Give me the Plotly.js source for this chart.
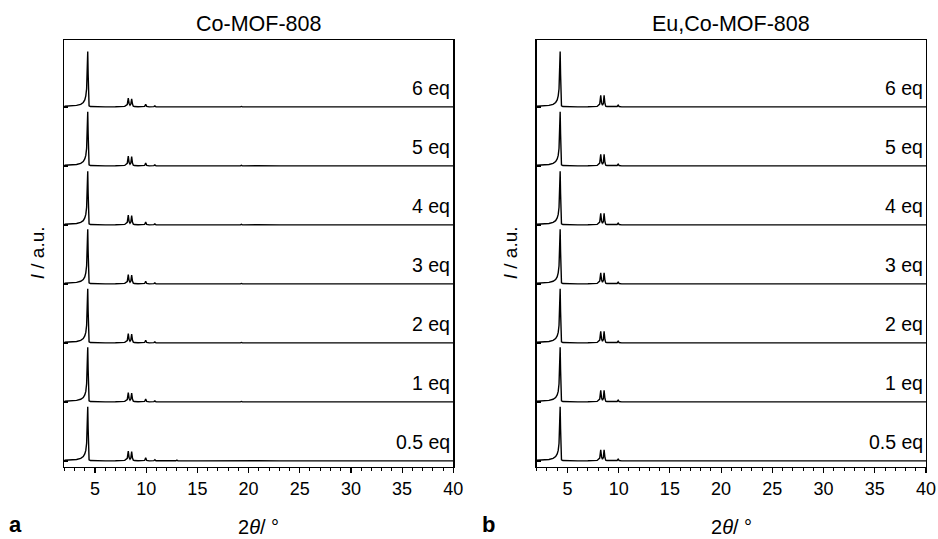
<!DOCTYPE html>
<html>
<head>
<meta charset="utf-8">
<script src="https://cdn.plot.ly/plotly-3.0.1.min.js"></script>
<style>html,body{margin:0;padding:0;background:#fff;}#chart{width:938px;height:539px;}</style>
</head>
<body>
<div id="chart"></div>
<script>
const twoTheta = [2.0,2.6,3.2,3.6,3.85,4.0,4.1,4.18,4.24,4.29,4.33,4.37,4.42,4.55,5.0,6.0,7.0,7.9,8.15,8.25,8.33,8.42,8.5,8.58,8.66,8.74,8.85,9.2,9.85,9.95,10.05,10.3,10.75,10.85,10.95,12.0,12.9,13.0,13.1,15.0,17.0,19.2,19.3,19.4,20.5,20.65,20.8,23.0,26.0,28.5,29.0,29.5,33.0,36.0,40.0];

const eqLabels = ['0.5 eq','1 eq','2 eq','3 eq','4 eq','5 eq','6 eq'];
const stackOffsets = [0,1,2,3,4,5,6];

// Panel a: Co-MOF-808 (normalised intensity, one array per loading)
const co_05 = [0.012,0.016,0.026,0.045,0.075,0.12,0.18,0.30,0.55,0.92,0.55,0.10,0.02,0.008,0.004,0.003,0.004,0.010,0.045,0.17,0.06,0.03,0.05,0.16,0.05,0.015,0.008,0.004,0.010,0.055,0.010,0.003,0.006,0.022,0.005,0.003,0.004,0.015,0.004,0.002,0.003,0.003,0.012,0.003,0.004,0.014,0.004,0.002,0.003,0.003,0.008,0.003,0.002,0.003,0.002];
const co_1  = [0.012,0.016,0.027,0.046,0.076,0.12,0.18,0.31,0.56,0.93,0.55,0.10,0.02,0.008,0.004,0.003,0.004,0.010,0.042,0.16,0.06,0.03,0.05,0.15,0.05,0.015,0.008,0.004,0.010,0.050,0.010,0.003,0.006,0.020,0.005,0.003,0.004,0.013,0.004,0.002,0.003,0.003,0.010,0.003,0.004,0.012,0.004,0.002,0.003,0.003,0.007,0.003,0.002,0.003,0.002];
const co_2  = [0.012,0.016,0.026,0.045,0.075,0.12,0.18,0.30,0.55,0.92,0.54,0.10,0.02,0.008,0.004,0.003,0.004,0.010,0.042,0.16,0.06,0.03,0.05,0.15,0.05,0.015,0.008,0.004,0.010,0.048,0.010,0.003,0.006,0.018,0.005,0.003,0.004,0.012,0.004,0.002,0.003,0.003,0.010,0.003,0.004,0.012,0.004,0.002,0.003,0.003,0.007,0.003,0.002,0.003,0.002];
const co_3  = [0.012,0.016,0.027,0.046,0.076,0.12,0.19,0.31,0.56,0.93,0.55,0.10,0.02,0.008,0.004,0.003,0.004,0.010,0.042,0.16,0.06,0.03,0.05,0.15,0.05,0.015,0.008,0.004,0.010,0.048,0.010,0.003,0.006,0.018,0.005,0.003,0.004,0.012,0.004,0.002,0.003,0.003,0.010,0.003,0.004,0.012,0.004,0.002,0.003,0.003,0.007,0.003,0.002,0.003,0.002];
const co_4  = [0.012,0.016,0.026,0.045,0.074,0.12,0.18,0.30,0.54,0.91,0.54,0.10,0.02,0.008,0.004,0.003,0.004,0.010,0.045,0.17,0.06,0.03,0.05,0.16,0.05,0.015,0.008,0.004,0.010,0.050,0.010,0.003,0.006,0.020,0.005,0.003,0.004,0.013,0.004,0.002,0.003,0.003,0.011,0.003,0.004,0.013,0.004,0.002,0.003,0.003,0.007,0.003,0.002,0.003,0.002];
const co_5  = [0.012,0.016,0.026,0.045,0.075,0.12,0.18,0.30,0.55,0.92,0.55,0.10,0.02,0.008,0.004,0.003,0.004,0.010,0.045,0.17,0.06,0.03,0.05,0.16,0.05,0.015,0.008,0.004,0.010,0.050,0.010,0.003,0.006,0.020,0.005,0.003,0.004,0.013,0.004,0.002,0.003,0.003,0.011,0.003,0.004,0.013,0.004,0.002,0.003,0.003,0.007,0.003,0.002,0.003,0.002];
const co_6  = [0.012,0.016,0.027,0.046,0.077,0.12,0.19,0.31,0.56,0.94,0.56,0.10,0.02,0.008,0.004,0.003,0.004,0.010,0.042,0.15,0.06,0.03,0.05,0.14,0.05,0.015,0.008,0.004,0.010,0.045,0.010,0.003,0.006,0.018,0.005,0.003,0.004,0.012,0.004,0.002,0.003,0.003,0.010,0.003,0.004,0.012,0.004,0.002,0.003,0.003,0.007,0.003,0.002,0.003,0.002];

// Panel b: Eu,Co-MOF-808
const eu_05 = [0.012,0.016,0.026,0.045,0.075,0.12,0.18,0.30,0.55,0.92,0.55,0.10,0.02,0.008,0.004,0.003,0.004,0.010,0.050,0.19,0.07,0.03,0.06,0.19,0.06,0.015,0.008,0.004,0.008,0.030,0.008,0.003,0.005,0.010,0.004,0.003,0.003,0.006,0.003,0.002,0.003,0.003,0.006,0.003,0.004,0.008,0.004,0.002,0.003,0.003,0.005,0.003,0.002,0.003,0.002];
const eu_1  = [0.012,0.016,0.027,0.046,0.076,0.12,0.18,0.31,0.56,0.93,0.55,0.10,0.02,0.008,0.004,0.003,0.004,0.010,0.050,0.20,0.07,0.03,0.06,0.20,0.06,0.015,0.008,0.004,0.008,0.030,0.008,0.003,0.005,0.010,0.004,0.003,0.003,0.006,0.003,0.002,0.003,0.003,0.006,0.003,0.004,0.008,0.004,0.002,0.003,0.003,0.005,0.003,0.002,0.003,0.002];
const eu_2  = [0.012,0.016,0.026,0.045,0.075,0.12,0.18,0.30,0.55,0.92,0.54,0.10,0.02,0.008,0.004,0.003,0.004,0.010,0.050,0.20,0.07,0.03,0.06,0.20,0.06,0.015,0.008,0.004,0.008,0.030,0.008,0.003,0.005,0.010,0.004,0.003,0.003,0.006,0.003,0.002,0.003,0.003,0.006,0.003,0.004,0.008,0.004,0.002,0.003,0.003,0.005,0.003,0.002,0.003,0.002];
const eu_3  = [0.012,0.016,0.027,0.046,0.076,0.12,0.19,0.31,0.56,0.93,0.55,0.10,0.02,0.008,0.004,0.003,0.004,0.010,0.050,0.19,0.07,0.03,0.06,0.19,0.06,0.015,0.008,0.004,0.008,0.030,0.008,0.003,0.005,0.010,0.004,0.003,0.003,0.006,0.003,0.002,0.003,0.003,0.006,0.003,0.004,0.008,0.004,0.002,0.003,0.003,0.005,0.003,0.002,0.003,0.002];
const eu_4  = [0.012,0.016,0.026,0.045,0.074,0.12,0.18,0.30,0.54,0.91,0.54,0.10,0.02,0.008,0.004,0.003,0.004,0.010,0.050,0.20,0.07,0.03,0.06,0.20,0.06,0.015,0.008,0.004,0.008,0.030,0.008,0.003,0.005,0.010,0.004,0.003,0.003,0.006,0.003,0.002,0.003,0.003,0.006,0.003,0.004,0.008,0.004,0.002,0.003,0.003,0.005,0.003,0.002,0.003,0.002];
const eu_5  = [0.012,0.016,0.026,0.045,0.075,0.12,0.18,0.30,0.55,0.92,0.55,0.10,0.02,0.008,0.004,0.003,0.004,0.010,0.050,0.20,0.07,0.03,0.06,0.20,0.06,0.015,0.008,0.004,0.008,0.030,0.008,0.003,0.005,0.010,0.004,0.003,0.003,0.006,0.003,0.002,0.003,0.003,0.006,0.003,0.004,0.008,0.004,0.002,0.003,0.003,0.005,0.003,0.002,0.003,0.002];
const eu_6  = [0.012,0.016,0.027,0.046,0.077,0.12,0.19,0.31,0.56,0.94,0.56,0.10,0.02,0.008,0.004,0.003,0.004,0.010,0.050,0.20,0.07,0.03,0.06,0.20,0.06,0.015,0.008,0.004,0.008,0.030,0.008,0.003,0.005,0.010,0.004,0.003,0.003,0.006,0.003,0.002,0.003,0.003,0.006,0.003,0.004,0.008,0.004,0.002,0.003,0.003,0.005,0.003,0.002,0.003,0.002];

const coSeries = [co_05, co_1, co_2, co_3, co_4, co_5, co_6];
const euSeries = [eu_05, eu_1, eu_2, eu_3, eu_4, eu_5, eu_6];
const panelTitles = ['Co-MOF-808', 'Eu,Co-MOF-808'];
const panelLetters = ['a', 'b'];

const FONT = 'Arial, "Liberation Sans", sans-serif';
const W = 938, H = 539;
const px = v => v / W, py = v => 1 - v / H;

const traces = [];
[coSeries, euSeries].forEach((series, p) => {
  series.forEach((vals, i) => {
    traces.push({
      type: 'scatter', mode: 'lines',
      x: twoTheta, y: vals.map(v => v + stackOffsets[i]),
      xaxis: p === 0 ? 'x' : 'x2', yaxis: p === 0 ? 'y' : 'y2',
      line: {color: '#000', width: 1.4}, hoverinfo: 'skip', showlegend: false
    });
  });
});

const xDom = [[px(64.3), px(453.3)], [px(536.7), px(926)]];
const yDom = [py(466.5), py(40)];

function xaxis(d, anchor) {
  return {
    domain: d, anchor: anchor, range: [2, 40], tick0: 0, dtick: 5,
    showline: true, mirror: true, linecolor: '#000', linewidth: 1.4,
    ticks: 'outside', ticklen: 5, tickwidth: 1.2, tickcolor: '#000',
    minor: {dtick: 1, tick0: 0, ticks: 'outside', ticklen: 3, tickwidth: 1, tickcolor: '#000', showgrid: false},
    showgrid: false, zeroline: false,
    tickfont: {family: FONT, size: 18, color: '#000'}, fixedrange: true
  };
}
function yaxis(anchor) {
  return {
    domain: yDom, anchor: anchor, range: [-0.093, 7.136],
    tickmode: 'array', tickvals: stackOffsets, ticktext: stackOffsets.map(() => ''),
    showline: true, mirror: true, linecolor: '#000', linewidth: 1.4,
    ticks: 'inside', ticklen: 4, tickwidth: 1.2, tickcolor: '#000',
    showgrid: false, zeroline: false, showticklabels: false, fixedrange: true
  };
}

const annotations = [];
[0, 1].forEach(p => {
  const xr = p === 0 ? 'x' : 'x2', yr = p === 0 ? 'y' : 'y2';
  const cx = (xDom[p][0] + xDom[p][1]) / 2;
  annotations.push({xref: 'paper', yref: 'paper', x: cx, y: py(24), text: panelTitles[p], showarrow: false,
    xanchor: 'center', yanchor: 'middle', font: {family: FONT, size: 21.5, color: '#000'}});
  annotations.push({xref: 'paper', yref: 'paper', x: cx, y: py(527), text: '2<i>θ</i>/ °', showarrow: false,
    xanchor: 'center', yanchor: 'middle', font: {family: FONT, size: 20, color: '#000'}});
  annotations.push({xref: 'paper', yref: 'paper', x: px(p === 0 ? 37 : 510), y: (yDom[0] + yDom[1]) / 2, text: '<i>I</i> / a.u.',
    textangle: -90, showarrow: false, xanchor: 'center', yanchor: 'middle', font: {family: FONT, size: 19, color: '#000'}});
  annotations.push({xref: 'paper', yref: 'paper', x: px(p === 0 ? 15 : 488), y: py(524), text: '<b>' + panelLetters[p] + '</b>', showarrow: false,
    xanchor: 'center', yanchor: 'middle', font: {family: FONT, size: 22, color: '#000'}});
  eqLabels.forEach((lab, i) => {
    annotations.push({xref: xr, yref: yr, x: 40, y: stackOffsets[i] + 0.33, text: lab, showarrow: false,
      xanchor: 'right', yanchor: 'middle', xshift: -1, font: {family: FONT, size: 19.5, color: '#000'}});
  });
});

const layout = {
  width: W, height: H, margin: {l: 0, r: 0, t: 0, b: 0},
  paper_bgcolor: '#fff', plot_bgcolor: '#fff', showlegend: false,
  xaxis: xaxis(xDom[0], 'y'), yaxis: yaxis('x'),
  xaxis2: xaxis(xDom[1], 'y2'), yaxis2: yaxis('x2'),
  annotations: annotations
};

Plotly.newPlot('chart', traces, layout, {displayModeBar: false, staticPlot: true});
</script>
</body>
</html>
